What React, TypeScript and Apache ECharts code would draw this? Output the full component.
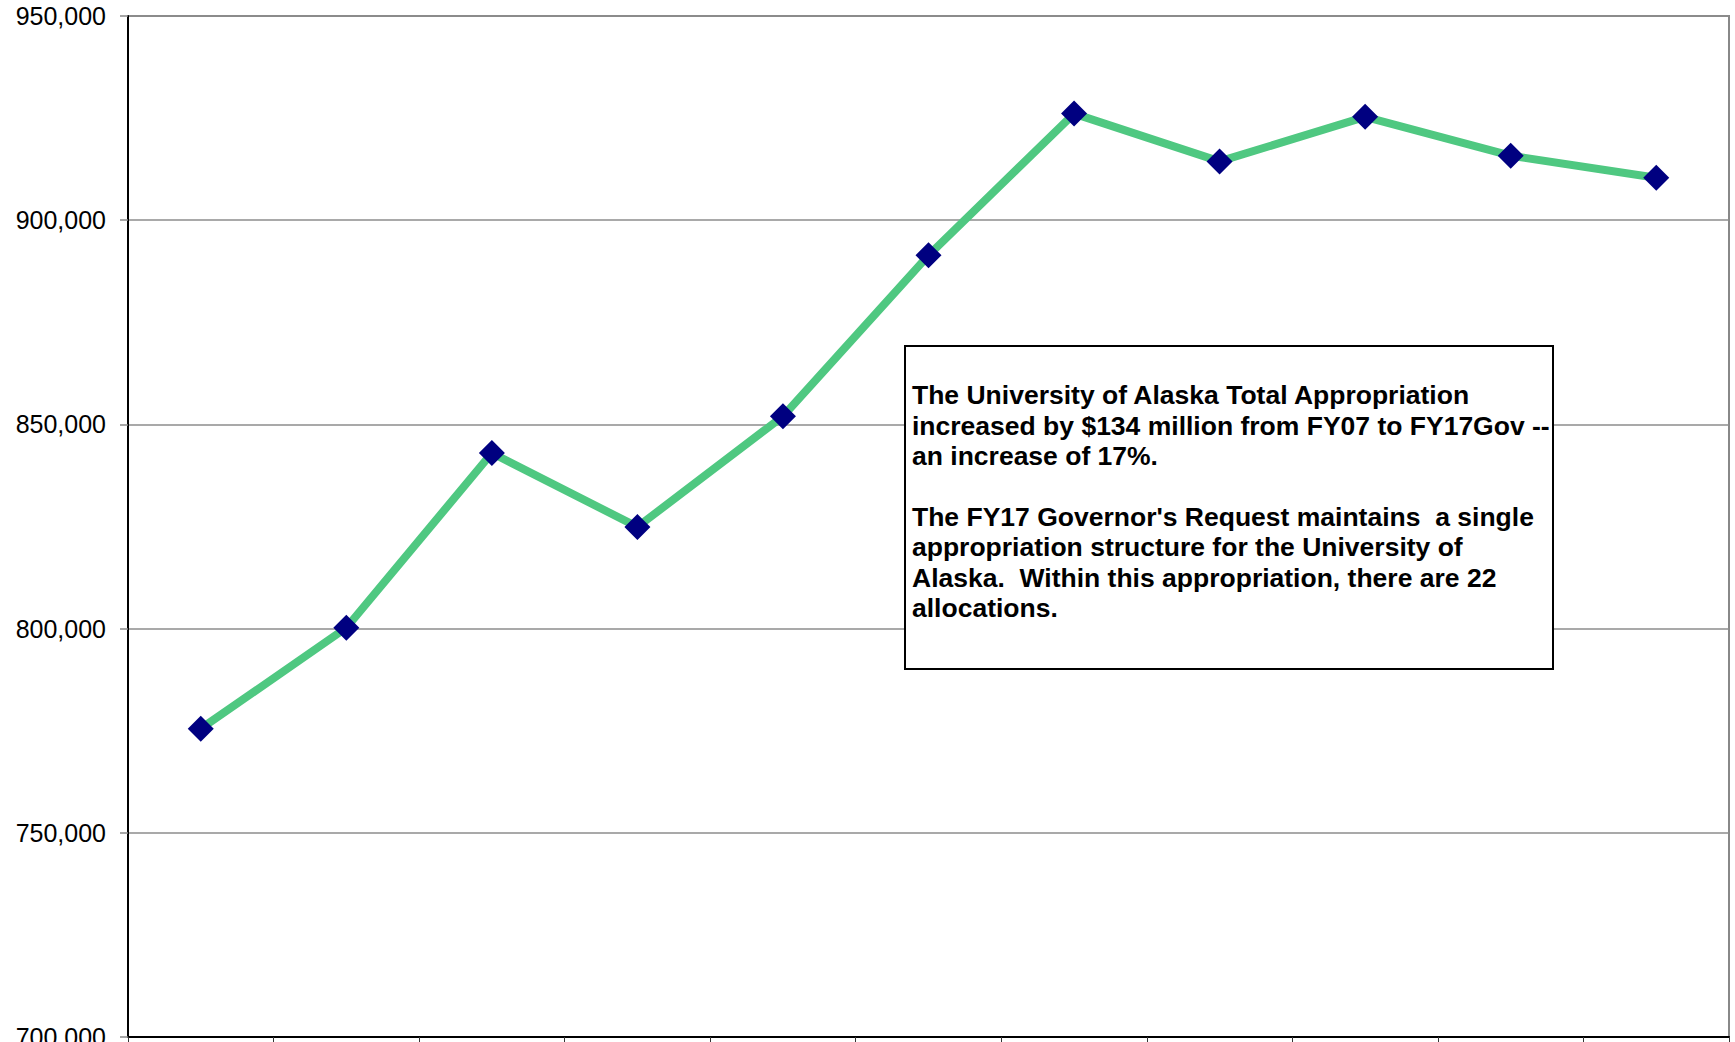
import React, { useEffect, useRef } from "react";
import * as echarts from "echarts";

const categories = ["FY07", "FY08", "FY09", "FY10", "FY11", "FY12", "FY13", "FY14", "FY15", "FY16", "FY17Gov"];
const appropriation = [775500, 800200, 843000, 824900, 852000, 891400, 926100, 914400, 925300, 915800, 910400];
const yMin = 700000;
const yMax = 950000;
const yInterval = 50000;
const noteLines = [
  "The University of Alaska Total Appropriation",
  "increased by $134 million from FY07 to FY17Gov --",
  "an increase of 17%.",
  "",
  "The FY17 Governor's Request maintains  a single",
  "appropriation structure for the University of",
  "Alaska.  Within this appropriation, there are 22",
  "allocations.",
];

export default function App() {
  const ref = useRef<HTMLDivElement>(null);
  useEffect(() => {
    document.body.style.margin = "0";
    const chart = echarts.init(ref.current!, null, { renderer: "svg" });
    chart.setOption({
      animation: false,
      backgroundColor: "#ffffff",
      grid: {
        left: 128,
        right: 6,
        top: 16,
        bottom: 5,
        containLabel: false,
        outerBoundsMode: "none",
        show: true,
        borderColor: "#888888",
        borderWidth: 2,
      },
      xAxis: {
        type: "category",
        data: categories,
        boundaryGap: true,
        axisLine: { show: true, lineStyle: { color: "#000000", width: 2 } },
        axisTick: { show: true, length: 8, lineStyle: { color: "#333333", width: 1 } },
        axisLabel: { show: false },
        splitLine: { show: false },
      },
      yAxis: {
        type: "value",
        min: yMin,
        max: yMax,
        interval: yInterval,
        axisLine: { show: true, lineStyle: { color: "#000000", width: 2 } },
        axisTick: { show: true, length: 8, lineStyle: { color: "#888888", width: 1.5 } },
        axisLabel: {
          margin: 22,
          color: "#000000",
          fontSize: 25,
          fontFamily: "'Liberation Sans', Arial, sans-serif",
          formatter: (v: number) => v.toLocaleString("en-US"),
        },
        splitLine: { show: true, lineStyle: { color: "#8c8c8c", width: 1.5 } },
      },
      series: [
        {
          type: "line",
          data: appropriation,
          symbol: "diamond",
          symbolSize: 26,
          itemStyle: { color: "#000080" },
          lineStyle: { color: "#4fc881", width: 8 },
          z: 3,
        },
      ],
      graphic: [
        {
          type: "rect",
          shape: { x: 905, y: 346, width: 648, height: 323 },
          style: { fill: "#ffffff", stroke: "#000000", lineWidth: 2 },
          z: 100,
        },
        {
          type: "text",
          x: 912,
          y: 380,
          z: 101,
          style: {
            text: noteLines.join("\n"),
            fill: "#000000",
            fontSize: 26.5,
            fontWeight: "bold",
            fontFamily: "'Liberation Sans', Arial, sans-serif",
            lineHeight: 30.4,
            verticalAlign: "top",
            align: "left",
          },
        },
      ],
    });
    return () => chart.dispose();
  }, []);
  return <div ref={ref} style={{ width: 1735, height: 1042 }} />;
}
